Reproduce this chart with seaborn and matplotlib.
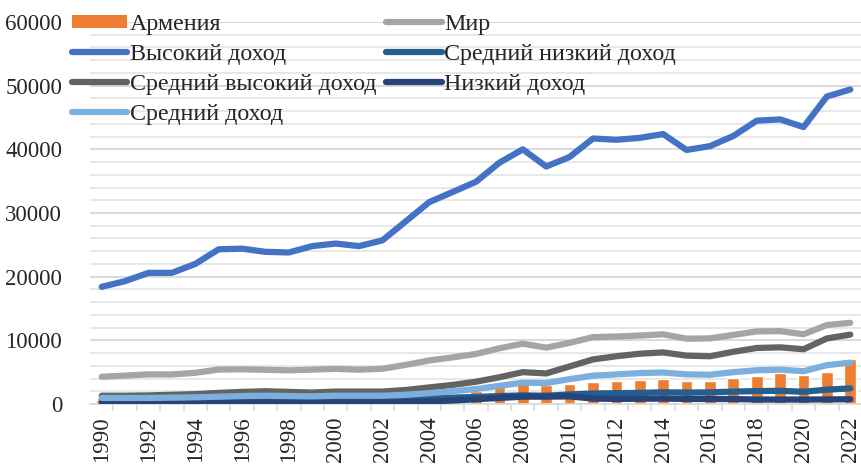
import numpy as np
import pandas as pd
import matplotlib
matplotlib.use('Agg')
import matplotlib.pyplot as plt
import seaborn as sns
from matplotlib.patches import Patch
from matplotlib.lines import Line2D
from matplotlib.ticker import MultipleLocator

# Данные (ВВП на душу населения, долл. США)
years = list(range(1990, 2023))

armenia = [638, 590, 365, 357, 400, 456, 498, 514, 585, 577, 590, 652, 739, 874, 1123, 1524,
           2099, 2917, 3787, 2906, 3218, 3526, 3685, 3838, 3987, 3607, 3591, 4042, 4392, 4829,
           4505, 4967, 7018]

mir = [4281, 4456, 4654, 4640, 4900, 5412, 5446, 5379, 5286, 5400, 5519, 5388, 5539, 6151, 6841,
       7322, 7860, 8751, 9471, 8854, 9600, 10500, 10600, 10750, 10950, 10260, 10300, 10850, 11400,
       11450, 10950, 12400, 12750]

vysokiy = [18400, 19300, 20600, 20600, 22000, 24300, 24400, 23900, 23800, 24800, 25200, 24800,
           25700, 28700, 31700, 33300, 34900, 37900, 40000, 37300, 38800, 41700, 41500, 41800,
           42400, 39900, 40500, 42100, 44500, 44700, 43500, 48300, 49400]

sred_nizkiy = [700, 690, 660, 650, 660, 700, 730, 740, 720, 710, 730, 720, 740, 800, 900, 1000,
               1100, 1250, 1350, 1300, 1500, 1650, 1700, 1750, 1840, 1800, 1830, 1950, 2030, 2070,
               1920, 2250, 2450]

sred_vysokiy = [1300, 1300, 1350, 1450, 1550, 1750, 1900, 2000, 1900, 1800, 1950, 1950, 1950,
                2200, 2600, 3000, 3500, 4200, 5000, 4800, 5900, 7000, 7500, 7900, 8100, 7600,
                7500, 8200, 8800, 8900, 8600, 10300, 10900]

nizkiy = [250, 250, 230, 220, 200, 220, 240, 250, 240, 230, 240, 240, 260, 300, 400, 550, 750,
          950, 1150, 1150, 1200, 850, 800, 820, 850, 800, 780, 780, 700, 700, 700, 720, 750]

sredniy = [950, 950, 950, 1000, 1050, 1150, 1250, 1300, 1250, 1200, 1300, 1300, 1300, 1450, 1700,
           2000, 2350, 2850, 3350, 3300, 3900, 4450, 4650, 4850, 4950, 4650, 4600, 5000, 5300,
           5400, 5150, 6100, 6500]

# Порядок рисования линий как в Excel
linii = [
    ('Мир', mir, '#A5A5A5'),
    ('Высокий доход', vysokiy, '#4472C4'),
    ('Средний низкий доход', sred_nizkiy, '#255E91'),
    ('Средний высокий доход', sred_vysokiy, '#636363'),
    ('Низкий доход', nizkiy, '#264478'),
    ('Средний доход', sredniy, '#7CAFDD'),
]

sns.set_theme(style='white')
plt.rcParams['font.family'] = ['Liberation Serif', 'DejaVu Serif']

fig = plt.figure(figsize=(8.62, 4.65), dpi=100)
ax = fig.add_axes([90 / 862, 1 - 404 / 465, 772 / 862, 382 / 465])

df_bar = pd.DataFrame({'year': [str(y) for y in years], 'val': armenia})
sns.barplot(data=df_bar, x='year', y='val', color='#ED7D31', width=0.5, saturation=1, ax=ax, zorder=2)

idx = np.arange(len(years))
lw = 4.5
for nombre, valores, color in linii:
    sns.lineplot(x=idx, y=valores, color=color, linewidth=lw, ax=ax, zorder=3,
                 solid_capstyle='round', solid_joinstyle='round')

ax.set_xlim(-0.5, len(years) - 0.5)
ax.set_ylim(0, 60000)
ax.yaxis.set_major_locator(MultipleLocator(10000))
ax.yaxis.set_minor_locator(MultipleLocator(2000))
ax.grid(which='major', axis='y', color='#D9D9D9', linewidth=1.4, zorder=0)
ax.grid(which='minor', axis='y', color='#E6E6E6', linewidth=1.3, zorder=0)
ax.set_axisbelow(True)

ax.set_xticks(idx[::2])
ax.set_xticklabels([str(y) for y in years[::2]], rotation=90, fontsize=16.5)
ax.set_xticks(idx[:-1] + 0.5, minor=True)
ax.tick_params(axis='x', which='major', length=0, pad=9)
ax.tick_params(axis='x', which='minor', length=5, color='#D9D9D9', width=1.2, direction='out', bottom=True)
ax.tick_params(axis='y', which='both', length=0, labelsize=16.5, pad=20)
ax.set_xlabel('')
ax.set_ylabel('')

for s in ['top', 'right', 'left']:
    ax.spines[s].set_visible(False)
ax.spines['bottom'].set_color('#D9D9D9')
ax.spines['bottom'].set_linewidth(1.2)

# Легенда: две колонки, заполнение по строкам
h = {n: Line2D([], [], color=c, linewidth=lw, solid_capstyle='round') for n, v, c in linii}
h_arm = Patch(facecolor='#ED7D31', edgecolor='none')
order = [('Армения', h_arm), ('Высокий доход', h['Высокий доход']),
         ('Средний высокий доход', h['Средний высокий доход']), ('Средний доход', h['Средний доход']),
         ('Мир', h['Мир']), ('Средний низкий доход', h['Средний низкий доход']),
         ('Низкий доход', h['Низкий доход'])]
fig.legend([o[1] for o in order], [o[0] for o in order], ncol=2, frameon=False,
           loc='upper left', bbox_to_anchor=(72 / 862, 1 - 14 / 465), fontsize=17.3,
           handlelength=2.3, handleheight=0.5, handletextpad=0.12, columnspacing=0.4,
           labelspacing=0.37, borderaxespad=0, borderpad=0)

fig.savefig('out.png', dpi=100)
